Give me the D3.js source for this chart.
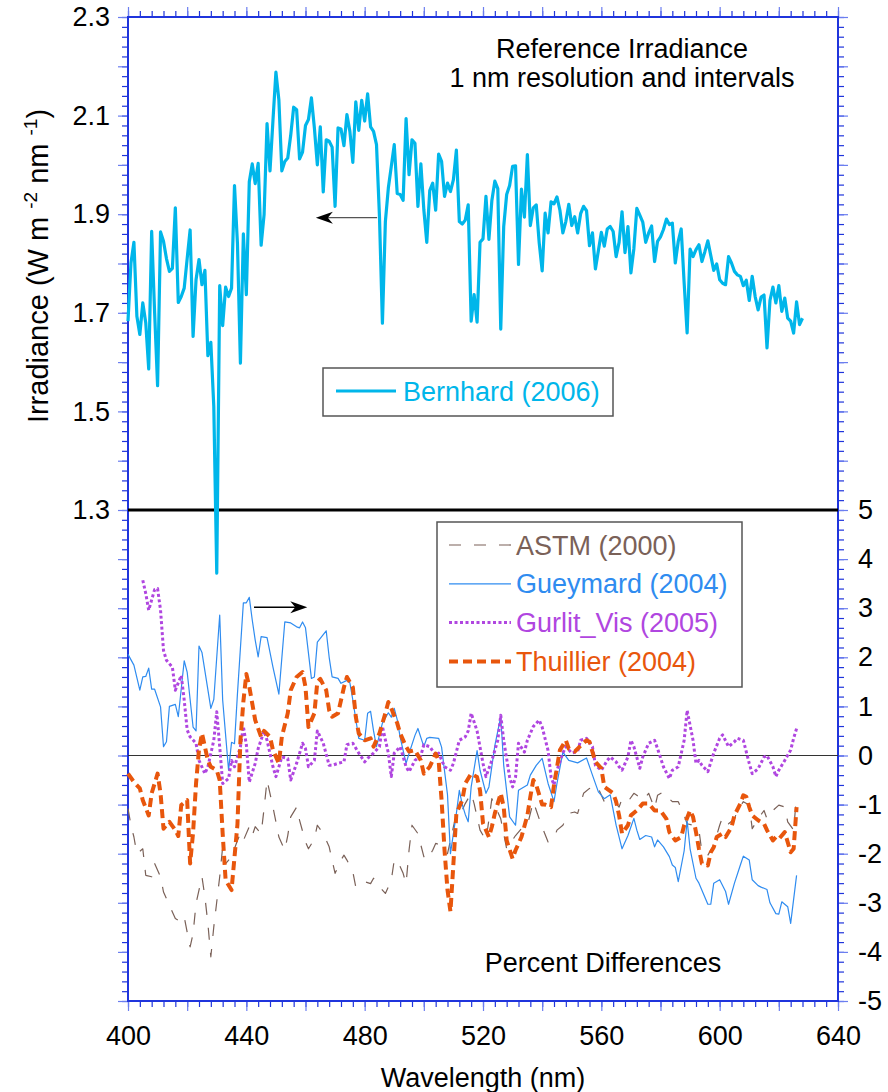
<!DOCTYPE html>
<html>
<head>
<meta charset="utf-8">
<script src="https://cdn.jsdelivr.net/npm/d3@7"></script>
<style>
  body { margin: 0; background: #fff; }
  text { font-family: "Liberation Sans", Arial, sans-serif; }
</style>
</head>
<body>
<svg id="chart" width="888" height="1092"></svg>
<script>
// Bernhard (2006) reference irradiance, 1 nm steps starting at 400 nm
const bernhardStart = 400;
const bernhard = [
  1.683,1.801,1.843,1.693,1.656,1.72,1.68,1.586,1.865,1.70,
  1.552,1.864,1.845,1.81,1.784,1.79,1.913,1.721,1.733,1.75,
  1.81,1.868,1.652,1.767,1.808,1.757,1.786,1.613,1.64,1.51,
  1.172,1.755,1.674,1.752,1.733,1.75,1.958,1.84,1.598,1.86,
  1.737,1.966,2.002,1.962,2.003,1.837,1.899,2.084,1.988,2.09,
  2.188,2.132,1.988,2.007,2.014,2.06,2.117,2.112,2.012,2.026,
  2.08,2.092,2.136,2.075,2.0,2.077,1.945,2.051,2.048,2.036,
  1.916,2.075,2.073,2.039,2.102,2.068,2.005,2.128,2.07,2.131,
  2.089,2.144,2.077,2.068,2.041,1.896,1.679,1.885,1.953,1.997,
  2.041,1.942,1.94,1.928,2.094,1.98,2.051,2.044,1.916,2.002,
  1.909,1.843,1.948,1.963,1.908,2.022,2.007,1.936,1.963,1.946,
  1.97,2.03,1.885,1.88,1.888,1.919,1.683,1.737,1.681,1.843,
  1.85,1.936,1.849,1.928,1.967,1.952,1.667,1.875,1.94,1.958,
  1.997,1.998,1.798,1.951,1.894,2.021,1.877,1.913,1.919,1.842,
  1.785,1.902,1.862,1.925,1.921,1.935,1.908,1.862,1.885,1.92,
  1.877,1.895,1.862,1.901,1.916,1.907,1.836,1.862,1.789,1.826,
  1.863,1.835,1.87,1.875,1.865,1.814,1.843,1.905,1.822,1.875,
  1.781,1.83,1.912,1.898,1.884,1.843,1.862,1.876,1.804,1.845,
  1.854,1.869,1.89,1.879,1.882,1.801,1.845,1.87,1.76,1.659,
  1.829,1.814,1.828,1.838,1.804,1.824,1.846,1.816,1.786,1.799,
  1.767,1.76,1.757,1.814,1.801,1.784,1.777,1.774,1.755,1.766,
  1.725,1.774,1.733,1.706,1.732,1.736,1.629,1.725,1.752,1.72,
  1.755,1.703,1.73,1.689,1.683,1.659,1.722,1.676,1.689
];

// percent differences, wavelength (nm) and value (%)
const astmNm = [400,401,402,403,405,406,408,409,411,412,414,416,418,419,421,422,423,425,426,427,428,429,431,432,433,435,437,438,439,441,442,443,445,446,447,449,450,451,453,454,455,457,458,460,461,463,464,466,468,469,470,472,473,474,476,477,478,480,482,483,484,486,487,489,490,491,493,494,495,496,498,500,501,503,504,506,508,509,511,513,514,516,517,519,521,523,526,528,531,533,535,537,539,540,542,544,545,547,549,551,552,554,556,557,559,561,562,564,566,567,569,571,572,574,576,578,579,581,583,584,586,588,589,591,593,594,596,598,600,601,603,605,606,608,610,611,613,615,616,618,620,622,623,625,626];
const astmPct = [-1.08,-1.42,-1.66,-2.0,-1.9,-2.44,-2.47,-2.2,-2.47,-2.78,-3.05,-3.32,-3.39,-3.29,-3.9,-3.63,-3.01,-2.47,-2.88,-3.42,-4.1,-3.49,-2.47,-1.86,-2.2,-2.06,-1.73,-1.59,-1.73,-1.45,-1.63,-1.45,-1.59,-1.08,-0.5,-1.05,-1.35,-1.66,-1.93,-1.63,-1.25,-1.05,-1.32,-1.76,-1.9,-1.7,-1.42,-1.59,-1.86,-2.13,-2.4,-2.13,-2.03,-2.13,-2.37,-2.68,-2.64,-2.57,-2.61,-2.5,-2.61,-2.74,-2.81,-2.54,-2.13,-2.13,-2.4,-2.61,-1.93,-1.42,-1.59,-2.06,-2.13,-1.93,-1.79,-1.83,-2.0,-1.73,-1.18,-1.11,-0.98,-0.77,-0.98,-1.52,-1.73,-0.88,-1.29,-1.9,-1.63,-1.49,-1.42,-0.94,-1.29,-1.46,-1.76,-1.69,-1.52,-1.42,-1.18,-1.15,-1.18,-0.77,-0.67,-0.74,-0.67,-0.94,-0.88,-0.91,-1.05,-0.88,-0.94,-0.77,-0.81,-0.91,-0.77,-1.08,-0.81,-0.74,-0.88,-0.94,-0.94,-1.22,-1.39,-1.42,-1.52,-1.97,-2.03,-1.83,-1.42,-1.25,-1.39,-1.29,-1.12,-0.94,-1.01,-1.49,-1.29,-1.12,-1.29,-1.12,-1.01,-1.05,-1.35,-1.52,-0.81];

const gueymardNm = [400,402,404,405,406,407,408,409,411,412,413,414,416,417,419,420,422,423,424,425,428,429,431,432,434,435,436,437,439,440,441,442,443,444,445,447,449,451,453,455,457,458,459,460,462,463,464,467,468,469,471,472,474,475,476,478,480,481,482,483,484,486,488,489,490,491,492,494,495,497,498,500,501,502,505,506,508,509,511,512,513,514,515,516,518,519,521,522,524,526,527,529,531,532,535,536,538,540,542,544,545,547,549,552,555,557,559,561,563,565,567,569,571,572,573,575,577,578,579,581,583,584,585,586,588,589,590,592,593,596,597,598,600,602,603,605,607,608,610,611,613,614,616,617,619,620,621,623,624,626];
const gueymardPct = [2.06,1.84,1.33,1.6,1.61,1.78,1.35,1.35,0.99,0.18,0.28,1.0,1.04,0.79,1.93,1.7,0.58,0.5,2.23,2.1,0.96,1.14,2.86,1.13,-0.3,0.27,0.24,1.26,3.11,3.11,3.22,2.76,2.35,2.01,2.42,2.4,1.8,1.25,2.72,2.7,2.62,2.6,2.72,2.6,1.57,1.6,2.31,2.54,2.0,1.6,1.57,1.47,1.53,1.48,1.13,0.35,0.31,0.86,0.9,0.5,0.18,0.66,0.87,0.78,0.96,0.73,0.37,-0.16,0.04,0.41,0.55,0.18,0.35,0.37,0.35,0.17,-0.8,-2.0,-1.18,-0.71,-1.0,-1.2,-1.35,-0.64,0.1,-0.3,-0.77,-0.64,0.2,0.79,-0.2,-1.25,-1.42,-0.71,-0.6,-0.4,-0.2,-0.06,-0.57,-0.94,-0.57,0.07,-0.1,-0.15,-0.05,-0.4,-0.74,-0.88,-0.8,-1.42,-1.9,-1.63,-1.28,-1.52,-1.71,-1.63,-1.66,-1.86,-1.72,-1.86,-2.06,-2.23,-2.28,-2.57,-1.94,-1.33,-1.9,-2.5,-2.6,-3.03,-3.03,-2.6,-2.53,-2.77,-3.03,-2.6,-2.23,-2.05,-2.13,-2.53,-2.65,-2.68,-2.73,-3.0,-3.22,-3.23,-2.98,-3.08,-3.42,-2.44];

const gurlitNm = [405,406,407,409,410,411,412,413,415,416,418,419,420,421,423,424,426,427,429,430,431,432,434,435,436,438,439,440,441,443,444,446,447,449,450,452,454,455,457,459,460,461,463,464,466,468,469,471,473,474,476,478,480,481,483,485,486,488,489,490,492,494,495,497,499,500,502,504,505,507,509,510,512,514,515,516,518,520,521,523,525,526,527,529,530,531,532,534,535,537,539,540,542,543,544,545,547,548,550,552,553,555,557,558,560,562,563,565,566,567,569,570,571,573,574,576,578,579,581,583,584,586,588,589,591,592,593,594,596,598,600,601,603,605,606,608,610,611,613,615,616,618,619,620,622,624,625,626];
const gurlitPct = [3.57,3.3,2.96,3.38,3.4,2.96,2.14,1.94,1.8,1.33,1.63,1.13,0.52,0.38,0.25,-0.1,-0.37,-0.23,0.31,0.89,0.18,-0.57,-0.47,-0.1,-0.23,0.18,0.59,0.22,-0.54,-0.16,0.14,0.5,0.31,-0.23,-0.43,-0.03,-0.06,-0.5,-0.16,0.25,0.14,-0.23,-0.1,0.5,0.25,-0.2,-0.2,-0.16,-0.13,0.22,0.25,0.05,-0.13,-0.06,0.05,0.18,0.59,0.05,-0.43,0.05,0.18,-0.23,-0.33,-0.1,0.0,0.22,0.18,0.0,0.05,-0.23,-0.3,-0.16,0.31,0.38,0.5,0.86,0.5,-0.16,-0.43,-0.1,0.31,0.82,0.31,-0.44,-0.64,-0.44,0.25,0.07,0.31,0.59,0.72,0.58,0.1,-0.44,-0.6,-0.3,0.05,0.18,0.05,0.08,0.31,0.35,0.18,-0.2,-0.3,-0.1,-0.03,-0.13,-0.23,-0.3,-0.03,0.31,0.18,-0.26,-0.03,0.25,0.31,0.14,-0.23,-0.47,-0.3,-0.23,0.31,0.92,0.31,-0.16,-0.1,-0.2,-0.33,0.05,0.35,0.42,0.18,0.28,0.35,0.31,-0.16,-0.37,-0.27,-0.03,0.0,-0.23,-0.43,-0.3,-0.1,0.11,0.35,0.55];

const thuillierNm = [400,402,404,405,407,408,410,411,412,414,416,417,418,420,421,422,423,424,425,427,428,430,431,432,433,435,437,438,439,440,441,443,445,446,448,449,451,452,454,455,457,459,460,461,463,464,465,467,468,469,471,473,474,476,477,478,480,482,483,485,487,488,489,491,492,494,495,497,499,500,502,504,505,506,507,508,509,510,511,513,514,516,518,519,520,522,523,524,526,527,528,530,531,533,535,536,537,538,540,541,543,544,546,548,549,551,553,555,556,558,560,561,564,565,566,567,569,570,572,574,576,578,580,582,583,585,587,588,590,591,592,593,594,596,597,598,599,601,602,604,605,607,608,609,610,611,613,615,616,618,619,620,622,624,625,626];
const thuillierPct = [-0.37,-0.54,-0.67,-0.91,-1.22,-0.77,-0.37,-0.77,-1.49,-1.35,-1.52,-1.64,-1.01,-0.91,-2.2,-1.57,-0.57,0.12,0.45,-0.1,-0.23,-0.3,-0.5,-1.59,-2.54,-2.74,-1.4,0.3,1.1,1.66,1.4,0.72,0.38,0.5,0.38,0.11,-0.16,0.38,0.86,1.33,1.6,1.7,1.39,0.58,0.86,1.5,1.56,1.33,0.92,0.79,0.86,1.39,1.6,1.39,0.79,0.45,0.31,0.35,0.18,0.45,0.86,1.09,0.96,0.66,0.45,0.18,0.08,0.11,-0.1,-0.37,-0.23,0.04,-0.1,-0.91,-1.93,-2.74,-3.18,-2.2,-1.18,-0.91,-0.57,-0.37,-0.44,-0.71,-1.38,-1.66,-1.45,-1.18,-0.77,-1.05,-1.73,-2.1,-1.93,-1.66,-1.22,-0.84,-0.5,-0.6,-1.0,-1.0,-1.05,-0.6,0.11,0.31,0.14,0.08,0.2,0.31,0.28,-0.13,-0.26,-0.64,-0.77,-0.94,-1.22,-1.59,-1.42,-1.22,-1.12,-0.98,-0.98,-1.12,-1.12,-1.29,-1.56,-1.73,-1.66,-1.42,-1.12,-1.25,-1.56,-1.9,-2.2,-2.24,-1.97,-1.87,-1.66,-1.59,-1.66,-1.46,-1.22,-0.98,-0.81,-0.84,-1.05,-1.22,-1.32,-1.39,-1.52,-1.73,-1.66,-1.7,-1.56,-1.97,-1.9,-1.05];

const xLabels = [400, 440, 480, 520, 560, 600, 640];
const irrLabels = [1.3, 1.5, 1.7, 1.9, 2.1, 2.3];
const pctLabels = [5, 4, 3, 2, 1, 0, -1, -2, -3, -4, -5];

const series = [
  {name: "ASTM (2000)", nm: astmNm, pct: astmPct, color: "#7a6158", width: 1.2, dash: "12,13"},
  {name: "Gueymard (2004)", nm: gueymardNm, pct: gueymardPct, color: "#2f8cf0", width: 1.2, dash: null},
  {name: "Gurlit_Vis (2005)", nm: gurlitNm, pct: gurlitPct, color: "#b046e0", width: 3, dash: "3,2.5"},
  {name: "Thuillier (2004)", nm: thuillierNm, pct: thuillierPct, color: "#e8560c", width: 4, dash: "9,5"}
];

// frame of the plot
const plotL = 128, plotR = 838, plotT = 17, plotB = 1001, plotSplit = 510;
const font = "Liberation Sans, Arial, sans-serif";
const fs = 27;
const axisBlue = "#1f34dc", majorBlue = "#6b7ef0";

const svg = d3.select("#chart");

const x = d3.scaleLinear().domain([400, 640]).range([plotL, plotR]);
const yIrr = d3.scaleLinear().domain([1.3, 2.3]).range([plotSplit, plotT]);
const yPct = d3.scaleLinear().domain([-5, 5]).range([plotB, plotSplit]);

// tick helper: no labels, coloured lines
function tickRow(axis, values, size, color, tx, ty) {
  let g = svg.append("g").attr("transform", `translate(${tx},${ty})`)
    .call(axis.tickValues(values).tickSize(size).tickSizeOuter(0).tickFormat(""));
  g.select(".domain").remove();
  g.selectAll("line").attr("stroke", color).attr("stroke-width", 1.2);
}

let irrMinor = d3.range(0, 51).map(i => 1.3 + i * 0.02);
let irrMajor = d3.range(0, 11).map(i => 1.3 + i * 0.1);
let pctMinor = d3.range(0, 50).map(i => -5 + i * 0.2);
let pctMajor = d3.range(-5, 5);
let nmMinor = d3.range(400, 641, 4);
let nmMajor = d3.range(400, 641, 20);

[[d3.axisLeft, plotL], [d3.axisRight, plotR]].forEach(([ax, pos]) => {
  tickRow(ax(yIrr), irrMinor, 6, axisBlue, pos, 0);
  tickRow(ax(yIrr), irrMajor, 10, majorBlue, pos, 0);
  tickRow(ax(yPct), pctMinor, 6, axisBlue, pos, 0);
  tickRow(ax(yPct), pctMajor, 10, majorBlue, pos, 0);
});
[[d3.axisTop, plotT], [d3.axisBottom, plotB]].forEach(([ax, pos]) => {
  tickRow(ax(x), nmMinor, 6, axisBlue, 0, pos);
  tickRow(ax(x), nmMajor, 10, majorBlue, 0, pos);
});

// frame lines
svg.append("rect").attr("x", plotL).attr("y", plotT).attr("width", plotR - plotL).attr("height", plotB - plotT)
  .attr("fill", "none").attr("stroke", axisBlue).attr("stroke-width", 2);

// tick labels
function labelAxis(axis, values, fmt, tx, ty, pad) {
  let g = svg.append("g").attr("transform", `translate(${tx},${ty})`)
    .call(axis.tickValues(values).tickSize(0).tickPadding(pad).tickFormat(fmt));
  g.select(".domain").remove();
  g.selectAll("text").attr("font-size", fs).attr("font-family", font).attr("fill", "#000");
}
labelAxis(d3.axisLeft(yIrr), irrLabels, d3.format(".1f"), plotL, 0, 18);
labelAxis(d3.axisRight(yPct), pctLabels, d => String(d), plotR, 0, 20);
labelAxis(d3.axisBottom(x), xLabels, d => String(d), 0, plotB, 25);

// divider and zero line
svg.append("line").attr("x1", plotL).attr("x2", plotR).attr("y1", yPct(5)).attr("y2", yPct(5))
  .attr("stroke", "#000").attr("stroke-width", 3.2);
svg.append("line").attr("x1", plotL).attr("x2", plotR).attr("y1", yPct(0)).attr("y2", yPct(0))
  .attr("stroke", "#333").attr("stroke-width", 1.1);

// percent difference lines
series.forEach(s => {
  let pts = s.nm.map((d, i) => [d, s.pct[i]]);
  svg.append("path").datum(pts)
    .attr("d", d3.line().x(d => x(d[0])).y(d => yPct(d[1])))
    .attr("fill", "none").attr("stroke", s.color).attr("stroke-width", s.width)
    .attr("stroke-dasharray", s.dash).attr("stroke-linejoin", "round");
});

// Bernhard irradiance
svg.append("path").datum(bernhard)
  .attr("d", d3.line().x((d, i) => x(bernhardStart + i)).y(d => yIrr(d)))
  .attr("fill", "none").attr("stroke", "#00b6ea").attr("stroke-width", 3.2).attr("stroke-linejoin", "round");

// arrows
function arrow(x1, x2, y) {
  let dir = x2 > x1 ? 1 : -1;
  svg.append("line").attr("x1", x1).attr("x2", x2 - dir * 8).attr("y1", y).attr("y2", y)
    .attr("stroke", dir < 0 ? "#555" : "#000").attr("stroke-width", 1.4);
  svg.append("path")
    .attr("d", `M${x2},${y} L${x2 - dir * 17},${y - 6} L${x2 - dir * 12},${y} L${x2 - dir * 17},${y + 6} Z`)
    .attr("fill", "#000");
}
arrow(x(484.2), x(463.5), yIrr(1.893));
arrow(x(442.6), x(460.6), yPct(3.02));

// titles
let t = svg.append("g").attr("font-family", font).attr("font-size", fs).attr("fill", "#000");
t.append("text").attr("x", 622).attr("y", 58).attr("text-anchor", "middle").text("Reference Irradiance");
t.append("text").attr("x", 622).attr("y", 87).attr("text-anchor", "middle").text("1 nm resolution and intervals");
t.append("text").attr("x", 603).attr("y", 972).attr("text-anchor", "middle").text("Percent Differences");
t.append("text").attr("x", (plotL + plotR) / 2).attr("y", 1087).attr("text-anchor", "middle").text("Wavelength (nm)");

let yl = t.append("text").attr("transform", "translate(48,266) rotate(-90)").attr("text-anchor", "middle")
  .attr("font-size", 29);
yl.append("tspan").text("Irradiance (W m ");
yl.append("tspan").attr("font-size", 19).attr("dy", -11).text("-2");
yl.append("tspan").attr("dy", 11).text(" nm ");
yl.append("tspan").attr("font-size", 19).attr("dy", -11).text("-1");
yl.append("tspan").attr("dy", 11).text(")");

// legend, upper panel
svg.append("rect").attr("x", 323).attr("y", 368).attr("width", 290).attr("height", 48)
  .attr("fill", "#fff").attr("stroke", "#555").attr("stroke-width", 1.5);
svg.append("line").attr("x1", 336).attr("x2", 396).attr("y1", 391).attr("y2", 391)
  .attr("stroke", "#00b6ea").attr("stroke-width", 3);
svg.append("text").attr("x", 403).attr("y", 401).attr("font-family", font).attr("font-size", fs)
  .attr("fill", "#00b6ea").text("Bernhard (2006)");

// legend, lower panel
svg.append("rect").attr("x", 437).attr("y", 522).attr("width", 305).attr("height", 165)
  .attr("fill", "#fff").attr("stroke", "#555").attr("stroke-width", 1.5);
let lg = svg.selectAll(".leg").data(series).join("g").attr("class", "leg")
  .attr("transform", (d, i) => `translate(0,${545 + i * 38.8})`);
lg.append("line").attr("x1", 449).attr("x2", 511).attr("y1", 0).attr("y2", 0)
  .attr("stroke", d => d.color).attr("stroke-width", d => d.width).attr("stroke-dasharray", d => d.dash);
lg.append("text").attr("x", 516).attr("y", 9.5).attr("font-family", font).attr("font-size", fs)
  .attr("fill", d => d.color).text(d => d.name);
</script>
</body>
</html>
